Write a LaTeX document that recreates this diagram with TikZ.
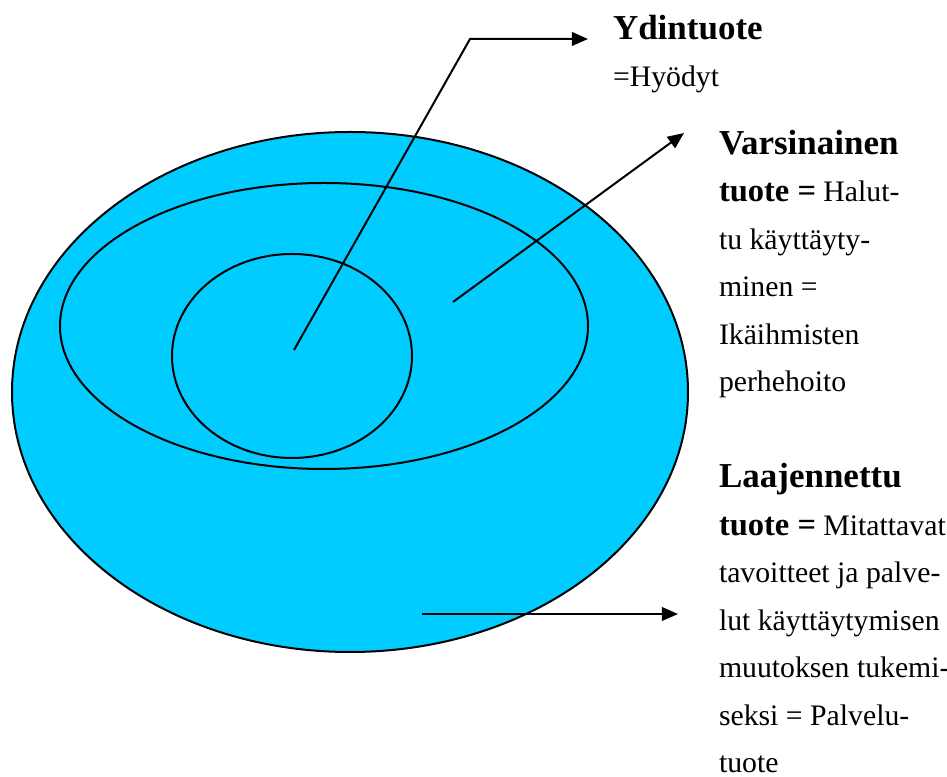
\documentclass[tikz,border=0pt]{standalone}
\usepackage{fontspec}
\setmainfont{Liberation Serif}
\usetikzlibrary{arrows.meta}
\newcommand{\hd}[1]{{\fontsize{14}{19}\selectfont\bfseries #1}}
\newcommand{\hb}[1]{{\fontsize{13}{19}\selectfont\bfseries #1}}
\definecolor{layerblue}{RGB}{0,204,255}

\begin{document}
\begin{tikzpicture}
[x=0.4pt, y=-0.4pt, line width=0.8pt,
 ring/.style={draw=black, fill=layerblue},
 pointer/.style={-{Triangle[length=6.5pt,width=5.5pt]}},
 label/.style={anchor=base west, align=left, inner sep=0pt,
   font=\fontsize{11.9}{19}\selectfont}]
\useasboundingbox (0,0) rectangle (947,777);

\draw[ring] (350,392) ellipse [x radius=338, y radius=260];
\draw (324,326) ellipse [x radius=264, y radius=143];
\draw (292,356) ellipse [x radius=120, y radius=102];

\coordinate (core) at (294,350);
\coordinate (bend) at (470,39);
\coordinate (coreEnd) at (588,39);
\coordinate (actual) at (453,302);
\coordinate (actualEnd) at (684,133);
\coordinate (augm) at (422,614);
\coordinate (augmEnd) at (678,614);

% anchors sit on the last baseline of each block
\node[label] (coreTxt) at (612,87) {\hd{Ydintuote}\\=Hyödyt};
\node[label] (actualTxt) at (718,392) {\hd{Varsinainen}\\\hb{tuote =} Halut-\\tu käyttäyty-\\minen =\\Ikäihmisten\\perhehoito};
\node[label] (augmTxt) at (718,773) {\hd{Laajennettu}\\\hb{tuote =} Mitattavat\\tavoitteet ja palve-\\lut käyttäytymisen\\muutoksen tukemi-\\seksi = Palvelu-\\tuote};

\draw[pointer] (core) -- (bend) -- (coreEnd);
\foreach \from/\to in {actual/actualEnd,augm/augmEnd}
	\draw[pointer] (\from) -- (\to);

\end{tikzpicture}
\end{document}
